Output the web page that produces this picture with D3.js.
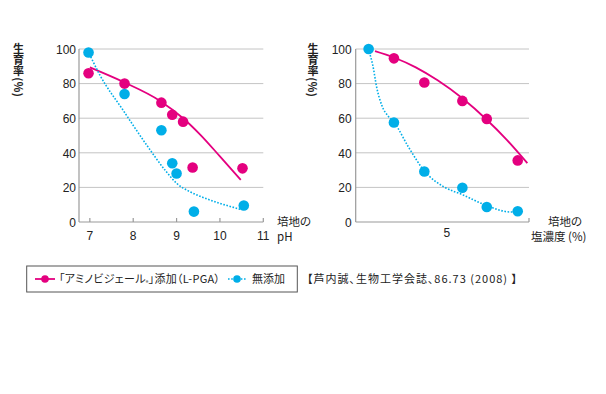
<!DOCTYPE html>
<html><head><meta charset="utf-8">
<script src="https://cdn.jsdelivr.net/npm/d3@7"></script>
<style>
body{margin:0;background:#fff;}
text{font-family:"Liberation Sans",Arial,sans-serif;}
.jp{font-family:"Noto Sans CJK JP",sans-serif;font-feature-settings:"palt";}
.vt{font-family:"Noto Sans CJK JP",sans-serif;writing-mode:vertical-rl;text-orientation:mixed;}
</style></head><body>
<svg id="c" width="606" height="394"></svg>
<script>
// ---- data ----
const yTicks = [0, 20, 40, 60, 80, 100];
const phTicks = [7, 8, 9, 10, 11];
const saltTicks = [5];

// pH chart
const phPinkX = [6.97, 7.8, 8.65, 8.9, 9.15, 9.37, 10.52];
const phPinkY = [86, 80, 69, 62, 58, 31.5, 31];
const phCyanX = [6.97, 7.8, 8.65, 8.9, 9.0, 9.4, 10.55];
const phCyanY = [98, 74, 53, 34, 28, 6, 9.5];
const phPinkCurveX = [7.0, 7.77, 8.62, 9.15, 9.55, 10.0, 10.48];
const phPinkCurveY = [89.4, 81, 70, 60, 50.4, 37.9, 24.4];
const phCyanCurveX = [7.02, 7.23, 7.77, 8.31, 8.75, 9.0, 9.3, 9.6, 10.0, 10.5];
const phCyanCurveY = [95.5, 85, 64.5, 44.5, 29.5, 22.4, 17.6, 14.3, 10.8, 7.1];

// salt chart
const saltPinkX = [2.1, 3.77, 5.86, 7.2, 8.9];
const saltPinkY = [94.6, 80.6, 70, 59.6, 35.6];
const saltCyanX = [0.71, 2.1, 3.77, 5.86, 7.2, 8.9];
const saltCyanY = [100, 57.5, 29.2, 19.8, 8.7, 6.2];
const saltPinkCurveX = [1.06, 2.1, 3.3, 4.5, 5.86, 7.2, 8.3, 9.43];
const saltPinkCurveY = [98.8, 95.1, 89.4, 81.9, 71.5, 59.1, 47.5, 34];
const saltCyanCurveX = [0.69, 0.95, 1.15, 1.45, 1.8, 2.12, 2.89, 3.81, 4.8, 5.86, 7.2, 8.5, 9.0];
const saltCyanCurveY = [100, 90, 78, 67, 61, 57.4, 43.5, 29, 20.6, 15.8, 9.5, 5.8, 6.0];

const yTitle = "生育率(%)";
const legendLabels = ["「アミノビジェール", "®", "」添加（L-PGA）", "無添加"];
const sourceText = "【芦内誠、生物工学会誌、86.73 (2008) 】";

const PINK = "#e4007f", CYAN = "#00aee8", AXIS = "#9a9a9a", GRID = "#c4c4c4";
const svg = d3.select("#c");

const y = d3.scaleLinear().domain([0, 100]).range([222, 49]);

function panel(opt) {
  const x = d3.scaleLinear().domain(opt.domain).range(opt.range);
  const g = svg.append("g");
  // grid
  g.selectAll(".grid").data(yTicks.filter(d => d > 0)).join("line")
    .attr("x1", opt.range[0]).attr("x2", opt.range[1])
    .attr("y1", d => y(d)).attr("y2", d => y(d))
    .attr("stroke", GRID).attr("stroke-width", 1);
  // y axis
  const ya = d3.axisLeft(y).tickValues(yTicks).tickSize(0).tickPadding(4);
  const yg = g.append("g").attr("transform", `translate(${opt.range[0]},0)`).call(ya);
  yg.select(".domain").remove();
  yg.selectAll("text").attr("font-size", 12).attr("fill", "#222").attr("dy", "0.35em").attr("x", opt.yLabelX);
  g.append("line").attr("x1", opt.range[0]).attr("x2", opt.range[0])
    .attr("y1", y(100)).attr("y2", y(0)).attr("stroke", AXIS).attr("stroke-width", 1.2);
  // x axis
  g.append("line").attr("x1", opt.range[0]).attr("x2", opt.range[1])
    .attr("y1", y(0)).attr("y2", y(0)).attr("stroke", AXIS).attr("stroke-width", 1.2);
  g.selectAll(".xt").data(opt.tickMarks).join("line")
    .attr("x1", d => x(d)).attr("x2", d => x(d))
    .attr("y1", y(0)).attr("y2", y(0) - 4).attr("stroke", AXIS).attr("stroke-width", 1.2);
  g.selectAll(".xl").data(opt.ticks).join("text")
    .attr("x", d => x(d)).attr("y", opt.xLabelY).attr("text-anchor", "middle")
    .attr("font-size", 12).attr("fill", "#222").text(d => d);
  // curves
  const line = d3.line().x(d => x(d[0])).y(d => y(d[1])).curve(d3.curveMonotoneX);
  g.append("path").attr("d", line(d3.zip(opt.pcx, opt.pcy)))
    .attr("fill", "none").attr("stroke", PINK).attr("stroke-width", 1.8);
  g.append("path").attr("d", line(d3.zip(opt.ccx, opt.ccy)))
    .attr("fill", "none").attr("stroke", CYAN).attr("stroke-width", 1.6)
    .attr("stroke-dasharray", "1.6,1.6");
  // points
  g.selectAll(".pp").data(d3.zip(opt.px, opt.py)).join("circle")
    .attr("cx", d => x(d[0])).attr("cy", d => y(d[1])).attr("r", 5.3).attr("fill", PINK);
  g.selectAll(".cp").data(d3.zip(opt.cx, opt.cy)).join("circle")
    .attr("cx", d => x(d[0])).attr("cy", d => y(d[1])).attr("r", 5.3).attr("fill", CYAN);
  // y title (vertical writing mode, single text)
  g.append("text").attr("class", "vt").attr("x", opt.titleX).attr("y", 43)
    .attr("font-size", 11).attr("font-weight", "bold").attr("letter-spacing", 0.4)
    .attr("fill", "#222").text(yTitle);
  return x;
}

panel({domain: [6.75, 11], range: [79, 263.3], ticks: phTicks, tickMarks: phTicks,
  xLabelY: 240, yLabelX: -3, titleX: 18.5,
  px: phPinkX, py: phPinkY, cx: phCyanX, cy: phCyanY,
  pcx: phPinkCurveX, pcy: phPinkCurveY, ccx: phCyanCurveX, ccy: phCyanCurveY});

panel({domain: [0, 9.52], range: [355.7, 529], ticks: saltTicks, tickMarks: [9.52],
  xLabelY: 237, yLabelX: -4, titleX: 313,
  px: saltPinkX, py: saltPinkY, cx: saltCyanX, cy: saltCyanY,
  pcx: saltPinkCurveX, pcy: saltPinkCurveY, ccx: saltCyanCurveX, ccy: saltCyanCurveY});

// x axis titles
const xt = [
  {t: "培地の", x: 277, y: 226},
  {t: "pH", x: 277, y: 241},
  {t: "培地の", x: 548, y: 226},
  {t: "塩濃度 (%)", x: 531, y: 241}
];
svg.selectAll(".xtitle").data(xt).join("text").attr("class", "jp")
  .attr("x", d => d.x).attr("y", d => d.y)
  .attr("font-size", 11.5).attr("fill", "#222").text(d => d.t);

// legend
svg.append("rect").attr("x", 26.7).attr("y", 266).attr("width", 270.6).attr("height", 26)
  .attr("fill", "none").attr("stroke", "#555").attr("stroke-width", 1);
svg.append("line").attr("x1", 35).attr("x2", 55).attr("y1", 279).attr("y2", 279)
  .attr("stroke", PINK).attr("stroke-width", 1.8);
svg.append("circle").attr("cx", 45).attr("cy", 279).attr("r", 3.8).attr("fill", PINK);
const lt = svg.append("text").attr("class", "jp").attr("x", 59).attr("y", 283)
  .attr("font-size", 11).attr("fill", "#222")
  .attr("textLength", 161).attr("lengthAdjust", "spacing");
lt.append("tspan").text(legendLabels[0]);
lt.append("tspan").attr("font-size", 5.5).attr("dy", 1.5).text(legendLabels[1]);
lt.append("tspan").attr("dy", -1.5).text(legendLabels[2]);
svg.append("line").attr("x1", 228).attr("x2", 247).attr("y1", 279).attr("y2", 279)
  .attr("stroke", CYAN).attr("stroke-width", 1.6).attr("stroke-dasharray", "1.6,1.6");
svg.append("circle").attr("cx", 237).attr("cy", 279).attr("r", 3.8).attr("fill", CYAN);
svg.append("text").attr("class", "jp").attr("x", 252).attr("y", 283)
  .attr("font-size", 11).attr("fill", "#222").text(legendLabels[3]);

svg.append("text").attr("class", "jp").attr("x", 307).attr("y", 283)
  .attr("font-size", 11).attr("fill", "#222")
  .attr("textLength", 210).attr("lengthAdjust", "spacing").text(sourceText);
</script>
</body></html>
